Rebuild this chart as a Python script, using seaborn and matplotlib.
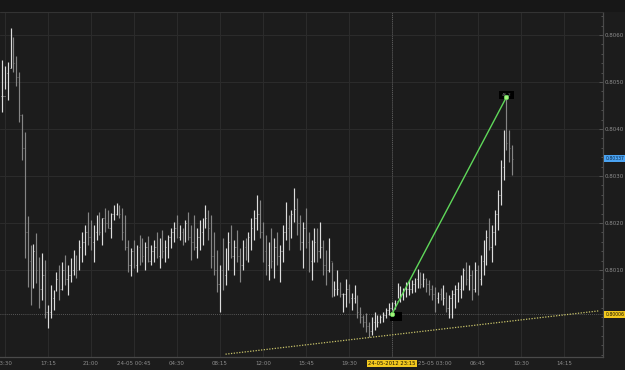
import matplotlib
matplotlib.use("Agg")
import numpy as np
import pandas as pd
import matplotlib.pyplot as plt
import matplotlib.dates as mdates
from matplotlib.ticker import FixedLocator, FixedFormatter, MultipleLocator
from matplotlib.patches import Rectangle
import seaborn as sns

# ---------------- data ----------------
bar_start = "2012-05-23 13:15"
bar_step = "15min"
base_price = 0.8000          # prices below are given in pips above this base

high_pips = [
    54.7, 53.4, 54.3, 61.5, 59.6, 55.5, 52.1, 43.2, 39.4, 21.5,
    15.3, 15.5, 17.9, 12.8, 13.6, 12.1, 2.5, 6.8, 5.7, 9.6,
    11.1, 11.7, 13.2, 11.1, 12.6, 14.3, 13.2, 16.4, 18.1, 19.6,
    22.3, 20.6, 19.6, 21.7, 22.3, 21.1, 23.2, 22.8, 22.1, 23.8,
    24.3, 23.8, 23.2, 21.7, 16.4, 14.7, 16.4, 15.3, 17.5, 16.8,
    16.0, 17.2, 15.3, 16.4, 18.1, 16.8, 18.5, 16.4, 17.5, 19.0,
    20.2, 21.7, 19.6, 19.0, 20.6, 22.3, 19.6, 21.7, 19.0, 20.6,
    21.1, 23.8, 22.8, 21.7, 18.1, 14.3, 11.1, 16.8, 14.7, 18.1,
    19.6, 16.4, 18.5, 14.7, 16.4, 16.8, 18.1, 21.1, 22.8, 26.0,
    24.9, 20.2, 17.5, 16.0, 19.0, 16.8, 18.1, 15.3, 19.6, 24.5,
    21.7, 22.8, 27.4, 25.3, 21.7, 20.2, 23.2, 18.1, 16.4, 19.0,
    19.0, 20.2, 16.4, 14.3, 16.8, 11.7, 7.7, 10.0, 7.4, 5.1,
    8.1, 7.0, 5.1, 6.8, 4.7, 2.1, 0.4, 0.8, -1.1, 0.0,
    1.1, 0.4, 0.4, 1.1, 1.9, 3.0, 3.2, 3.6, 7.2, 6.6,
    6.2, 7.4, 7.9, 7.9, 8.3, 10.2, 9.6, 9.4, 8.3, 7.9,
    6.8, 6.4, 5.3, 6.2, 6.8, 5.3, 4.7, 5.7, 6.8, 7.4,
    8.9, 10.4, 11.7, 11.1, 10.0, 11.7, 11.1, 13.2, 16.4, 18.5,
    21.1, 19.6, 22.8, 27.0, 33.4, 39.8, 46.6, 39.8, 36.6,
]
low_pips = [
    43.6, 48.5, 46.2, 53.0, 52.1, 49.1, 41.5, 33.4, 12.6, 6.4,
    2.5, 6.2, 7.2, 1.9, 3.6, -0.2, -2.3, -0.2, 1.5, 5.5,
    3.6, 5.7, 6.8, 4.7, 7.4, 8.9, 8.3, 10.0, 11.7, 13.2,
    15.3, 14.3, 11.7, 16.4, 17.5, 15.3, 18.1, 18.9, 16.8, 20.6,
    21.7, 21.1, 16.4, 14.3, 9.6, 8.7, 10.4, 9.6, 11.1, 11.7,
    10.0, 11.7, 11.1, 11.7, 12.6, 10.4, 12.6, 11.7, 12.6, 14.7,
    16.0, 16.8, 16.4, 15.3, 16.0, 16.4, 12.1, 14.3, 12.6, 14.3,
    15.3, 18.9, 16.4, 10.4, 8.9, 5.3, 1.1, 5.7, 6.8, 10.0,
    12.6, 8.9, 11.7, 7.4, 10.0, 12.1, 11.7, 14.3, 16.4, 18.5,
    16.8, 11.7, 8.9, 7.9, 10.4, 8.3, 11.1, 7.4, 11.7, 16.4,
    14.3, 16.8, 20.2, 17.5, 14.3, 10.4, 14.7, 9.6, 7.9, 11.7,
    11.7, 12.6, 8.9, 6.8, 9.6, 4.3, 4.5, 4.7, 4.3, 1.1,
    2.1, 3.0, 1.5, 3.0, -0.2, -1.3, -2.1, -3.2, -4.3, -3.8,
    -2.8, -2.1, -1.3, -1.1, -0.2, 0.4, 1.5, 1.7, 4.0, 3.2,
    3.6, 4.3, 4.7, 5.1, 5.3, 6.2, 6.2, 6.4, 5.3, 4.7,
    3.6, 1.1, 3.0, 3.6, 2.5, 1.1, -0.2, -0.2, 1.9, 3.2,
    4.0, 5.7, 6.8, 5.7, 3.6, 5.3, 4.7, 6.8, 8.9, 11.1,
    14.3, 11.7, 15.3, 18.5, 23.8, 29.1, 35.5, 33.0, 30.2,
]
close_pips = [
    47, 52, 53, 58, 54, 51, 43, 36, 18, 12,
    9, 14, 10, 6, 9, 1, 1, 4, 4, 8,
    6, 10, 8, 9, 10, 13, 10, 15, 16, 18,
    17, 16, 18, 20, 18, 21, 20, 19, 22, 22,
    22.5, 22, 18, 15, 11, 14, 11, 15, 14, 13,
    15, 12, 14, 15, 13, 15, 14, 15, 17, 18,
    19, 17, 18, 17, 20, 17, 16, 15, 17, 18,
    20, 21, 19, 13, 10, 7, 10, 9, 14, 16,
    13, 15, 13, 11, 15, 14, 17, 19, 21, 22,
    18, 14, 11, 14, 12, 15, 13, 14, 18, 19,
    17, 22, 23, 20, 16, 19, 16, 12, 14, 16,
    14, 15, 11, 10, 12, 6, 6, 6, 5, 5,
    6, 4, 4, 4, 1, 0, -1, -2, -3, -1,
    -1, -1, 0, 0.5, 1.5, 2, 3, 3.5, 5, 5,
    6, 6, 6, 7, 8, 8, 7, 8, 7, 6,
    5, 4, 5, 4, 4, 2, 4, 5, 6, 6,
    8, 10, 8, 9, 6, 10, 8, 12, 14, 17,
    15, 18, 22, 26, 32, 38, 37, 36, 33.7,
]

x_tick_times = ["2012-05-23 13:30", "2012-05-23 17:15", "2012-05-23 21:00",
                "2012-05-24 00:45", "2012-05-24 04:30", "2012-05-24 08:15",
                "2012-05-24 12:00", "2012-05-24 15:45", "2012-05-24 19:30",
                "2012-05-24 23:15", "2012-05-25 03:00", "2012-05-25 06:45",
                "2012-05-25 10:30", "2012-05-25 14:15"]
x_tick_labels = ["13:30", "17:15", "21:00", "24-05 00:45", "04:30", "08:15",
                 "12:00", "15:45", "19:30", "", "25-05 03:00", "06:45",
                 "10:30", "14:15"]
x_range = ["2012-05-23 13:05", "2012-05-25 17:40"]

y_ticks = [0.8010, 0.8020, 0.8030, 0.8040, 0.8050, 0.8060]
y_tick_labels = ["0.8010", "0.8020", "0.8030", "0.8040", "0.8050", "0.8060"]
y_range = [0.79915, 0.80649]

day_times = ["2012-05-24 00:00", "2012-05-25 00:00"]
day_labels = ["24-05", "25-05"]

last_price = 0.80337
last_label = "0.80337"
cursor_time = "2012-05-24 23:15"
cursor_price = 0.80006
cursor_price_label = "0.80006"
cursor_time_label = "24-05-2012 23:15"

move_times = ["2012-05-24 23:15", "2012-05-25 09:15"]
move_prices = [0.80006, 0.80468]
move_label = "46.2"

trend_times = ["2012-05-24 08:45", "2012-05-25 17:15"]
trend_prices = [0.79921, 0.80013]

# ---------------- style ----------------
BG = "#1c1c1c"
GRID = "#2b2b2b"
TXT = "#8e8e8e"
sns.set_theme(style="dark", rc={
    "axes.facecolor": BG, "figure.facecolor": BG, "savefig.facecolor": BG,
    "axes.edgecolor": "#4a4a4a", "text.color": TXT,
    "xtick.color": TXT, "ytick.color": TXT,
})
plt.rcParams["font.family"] = ["DejaVu Sans"]

W, H = 625, 370
fig = plt.figure(figsize=(W / 100, H / 100), dpi=100)
ax = fig.add_axes([0, 13 / H, 603 / W, 345 / H])
ax.set_facecolor(BG)

# header strip
fig.patches.append(Rectangle((0, (H - 12) / H), 1, 12 / H, transform=fig.transFigure,
                             facecolor="#171717", edgecolor="none", zorder=0))
fig.lines.append(plt.Line2D([0, 603 / W], [(H - 12) / H] * 2, transform=fig.transFigure,
                            color="#333333", lw=0.8))

times = pd.date_range(bar_start, periods=len(high_pips), freq=bar_step)
xt = mdates.date2num(times)
hi = base_price + np.array(high_pips) / 10000
lo = base_price + np.array(low_pips) / 10000
cl = base_price + np.array(close_pips) / 10000
prev = np.concatenate([[cl[0]], cl[:-1]])
up = cl >= prev
colors = np.where(up, "#dcdcdc", "#858585")

ax.vlines(xt, lo, hi, colors=colors, lw=0.85, zorder=3)
tick_w = 3.5 / 1440
ax.hlines(cl, xt, xt + tick_w, colors=colors, lw=0.5, zorder=3)
ax.hlines(prev, xt - tick_w, xt, colors=colors, lw=0.5, zorder=3)

# trend line (dotted yellow) and measured move (green)
trend_df = pd.DataFrame({"t": pd.to_datetime(trend_times), "p": trend_prices})
sns.lineplot(data=trend_df, x="t", y="p", ax=ax, color="#c9c46a", lw=0.9,
             linestyle=(0, (1, 1.2)), zorder=4)
move_df = pd.DataFrame({"t": pd.to_datetime(move_times), "p": move_prices})
sns.lineplot(data=move_df, x="t", y="p", ax=ax, color="#5fd85a", lw=1.0, zorder=5)

mt = mdates.date2num(pd.to_datetime(move_times))
ax.text(mt[0], move_prices[0], "    ", fontsize=4.5, ha="left", va="top",
        bbox=dict(boxstyle="square,pad=0.35", fc="black", ec="none"), zorder=6)
ax.text(mt[1], move_prices[1], move_label, fontsize=3.2, color="#777777",
        ha="center", va="bottom",
        bbox=dict(boxstyle="square,pad=0.5", fc="black", ec="none"), zorder=6)
ax.plot(mt, move_prices, linestyle="none", marker="o", ms=3.2,
        mfc="#a8f07c", mec="#5fd85a", mew=0.5, zorder=7)

# crosshair
ct = mdates.date2num(pd.Timestamp(cursor_time))
ax.axhline(cursor_price, color="#6a6a6a", lw=0.6, ls=(0, (1, 1.5)), zorder=2)
ax.axvline(ct, color="#6a6a6a", lw=0.6, ls=(0, (1, 1.5)), zorder=2)

# axes
ax.set_xlim(mdates.date2num(pd.to_datetime(x_range)))
ax.set_ylim(y_range)
ax.xaxis.set_major_locator(FixedLocator(mdates.date2num(pd.to_datetime(x_tick_times))))
ax.xaxis.set_major_formatter(FixedFormatter(x_tick_labels))
minor_x = pd.date_range(x_tick_times[0], x_tick_times[-1], freq="45min")
ax.xaxis.set_minor_locator(FixedLocator(mdates.date2num(minor_x)))
ax.yaxis.tick_right()
ax.yaxis.set_major_locator(FixedLocator(y_ticks))
ax.yaxis.set_major_formatter(FixedFormatter(y_tick_labels))
ax.yaxis.set_minor_locator(MultipleLocator(0.0002))
ax.tick_params(axis="x", which="both", direction="in", labelsize=4, pad=3,
               colors="#5a5a5a", labelcolor=TXT, width=0.6)
ax.tick_params(axis="x", which="major", length=3)
ax.tick_params(axis="x", which="minor", length=1.8)
ax.tick_params(axis="y", which="both", direction="in", labelsize=4, pad=1.5,
               colors="#5a5a5a", labelcolor=TXT, width=0.6)
ax.tick_params(axis="y", which="major", length=3)
ax.tick_params(axis="y", which="minor", length=1.8)
ax.grid(True, which="major", color=GRID, lw=0.8)
for s in ["top", "left"]:
    ax.spines[s].set_visible(False)
for s in ["right", "bottom"]:
    ax.spines[s].set_color("#4a4a4a")
    ax.spines[s].set_linewidth(0.9)
ax.set_xlabel("")
ax.set_ylabel("")

# price badges on the right axis
yt = ax.get_yaxis_transform()
ax.text(1.004, last_price, last_label, transform=yt, fontsize=3.3, color="#0c2a4a",
        ha="left", va="center", clip_on=False,
        bbox=dict(boxstyle="square,pad=0.2", fc="#4aa3f2", ec="none"))
ax.text(1.004, cursor_price, cursor_price_label, transform=yt, fontsize=3.3,
        color="#1a1400", ha="left", va="center", clip_on=False,
        bbox=dict(boxstyle="square,pad=0.2", fc="#f2c81e", ec="none"))
xtr = ax.get_xaxis_transform()
ax.text(ct, -0.0185, cursor_time_label, transform=xtr, fontsize=3.8, color="#1a1400",
        ha="center", va="center", clip_on=False,
        bbox=dict(boxstyle="square,pad=0.25", fc="#f2c81e", ec="none"))

# day markers in the header
for dt, lab in zip(day_times, day_labels):
    d = mdates.date2num(pd.Timestamp(dt))
    ax.text(d, 1.024, lab, transform=xtr, fontsize=3.8, color="#7a7a7a",
            ha="center", va="center", clip_on=False)
    ax.plot([d], [1.006], transform=xtr, marker="v", ms=3, color="#c79a2c",
            clip_on=False, linestyle="none")

fig.savefig("out.png", dpi=100, facecolor=BG)
